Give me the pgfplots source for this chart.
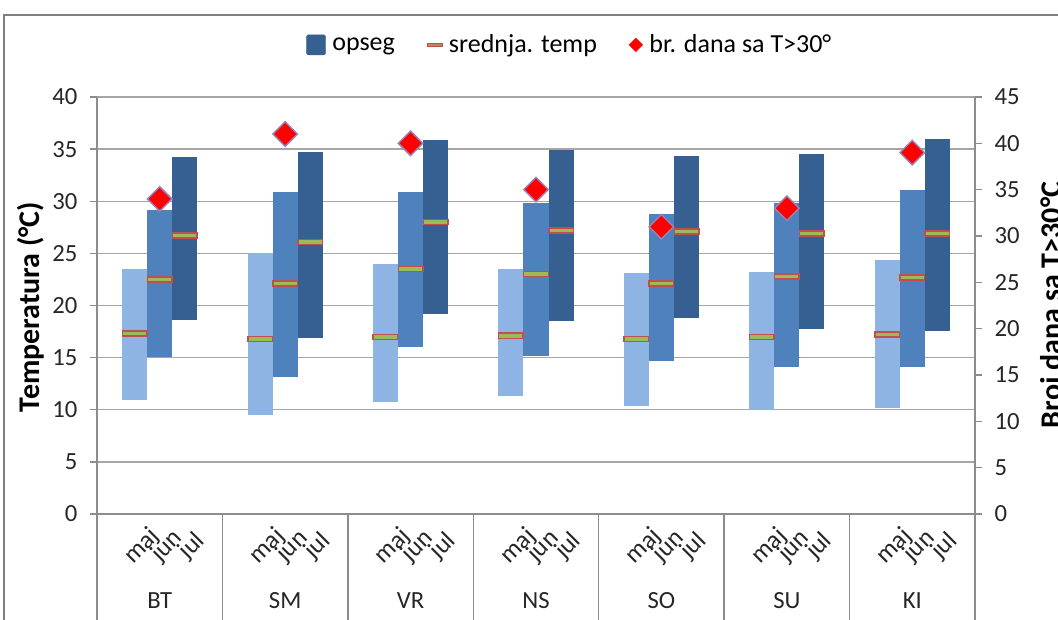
\documentclass[border=0pt]{standalone}
\usepackage{fontspec}
\setmainfont{Carlito}
\usepackage{pgfplots}
\usepackage{pgfplotstable}
\pgfplotsset{compat=1.18}

\definecolor{majc}{HTML}{8EB4E3}
\definecolor{junc}{HTML}{4F81BD}
\definecolor{julc}{HTML}{376092}
\definecolor{meanfill}{HTML}{9BBB59}
\definecolor{meanedge}{HTML}{C0504D}
\definecolor{dayedge}{HTML}{8064A2}
\definecolor{gridc}{HTML}{A6A6A6}
\definecolor{axisc}{HTML}{8C8C8C}
\definecolor{framec}{HTML}{7F7F7F}

% st = station index, lo/hi = range, mean = mean temperature
\pgfplotstableread{
st lo hi mean
0 10.9 23.5 17.3
1 9.5 25.0 16.8
2 10.7 24.0 17.0
3 11.3 23.5 17.1
4 10.4 23.1 16.8
5 10.0 23.2 17.0
6 10.2 24.4 17.2
}\majtab
\pgfplotstableread{
st lo hi mean
0 15.1 29.2 22.5
1 13.1 30.9 22.1
2 16.0 30.9 23.5
3 15.2 29.8 23.0
4 14.7 28.8 22.1
5 14.1 29.8 22.8
6 14.1 31.1 22.7
}\juntab
\pgfplotstableread{
st lo hi mean
0 18.6 34.2 26.7
1 16.9 34.7 26.1
2 19.2 35.9 28.0
3 18.5 34.9 27.2
4 18.8 34.3 27.1
5 17.7 34.5 26.9
6 17.6 36.0 26.9
}\jultab
\pgfplotstableread{
st days
0 34
1 41
2 40
3 35
4 31
5 33
6 39
}\daytab

\pgfdeclareplotmark{meanbar}{%
  \pgfpathrectangle{\pgfpoint{-9.2pt}{-1.9pt}}{\pgfpoint{18.4pt}{3.8pt}}%
  \pgfusepathqfillstroke}

\pgfplotsset{
  rangebar/.style={draw=none, forget plot,
    error bars/.cd, y dir=plus, y explicit, error mark=none,
    error bar style={line width=18.8pt, draw=#1}},
  meanmark/.style={only marks, forget plot, mark=meanbar,
    mark options={fill=meanfill, draw=meanedge, line width=1.1pt}},
  ticktxt/.style={font=\fontsize{18.5}{19}\selectfont},
}

\begin{document}
\begin{tikzpicture}
\useasboundingbox (0,0) rectangle (793.5pt,464.25pt);
\draw[framec, line width=1.1pt] (3pt,-20pt) -- (3pt,453pt) -- (820pt,453pt);

\begin{axis}[
  at={(72.75pt,78.75pt)}, anchor=south west,
  width=658.5pt, height=312.75pt, scale only axis,
  xmin=-0.5, xmax=6.5, ymin=0, ymax=40,
  axis y line*=left, axis x line*=bottom,
  every outer x axis line/.append style={-},
  every outer y axis line/.append style={-},
  axis line style={axisc, line width=1.1pt},
  clip=false,
  ytick={0,5,...,40},
  ymajorgrids, grid style={gridc, line width=1.1pt},
  major tick length=5.25pt, tick align=outside,
  tick style={axisc, line width=1.1pt},
  /pgf/number format/assume math mode=true,
  yticklabel style={ticktxt, text=black!85, xshift=-6pt},
  xtick={-0.2,0,0.2,0.8,1,1.2,1.8,2,2.2,2.8,3,3.2,3.8,4,4.2,4.8,5,5.2,5.8,6,6.2},
  xticklabels={maj,jun,jul,maj,jun,jul,maj,jun,jul,maj,jun,jul,maj,jun,jul,maj,jun,jul,maj,jun,jul},
  xtick style={draw=none},
  xticklabel style={font=\fontsize{19}{19}\selectfont, text=black!85, xshift=5.5pt, yshift=-19pt, rotate=45, anchor=center},
  extra x ticks={0,1,2,3,4,5,6},
  extra x tick labels={BT,SM,VR,NS,SO,SU,KI},
  extra x tick style={grid=none,
    every x tick label/.style={font=\fontsize{18.5}{19}\selectfont, text=black!85, anchor=center, yshift=-60pt}},
  legend style={draw=none, fill=none, at={(0.539,1.125)}, anchor=center,
    font=\fontsize{19.5}{20}\selectfont,
    /tikz/every even column/.append style={column sep=22pt},
    /tikz/every odd column/.append style={column sep=3pt}},
  legend columns=3,
]
\addlegendimage{legend image code/.code={\fill[julc, rounded corners=1pt] (0pt,-7.5pt) rectangle (14pt,7.5pt);}}
\addlegendentry{opseg}
\addlegendimage{legend image code/.code={\draw[meanedge, fill=meanfill!60!meanedge, line width=0.5pt] (1pt,-1.3pt) rectangle (12pt,1.3pt);}}
\addlegendentry{srednja. temp}
\addlegendimage{legend image code/.code={\fill[red] (6.5pt,-5pt) -- (11.5pt,0pt) -- (6.5pt,5pt) -- (1.5pt,0pt) -- cycle;}}
\addlegendentry{br. dana sa T>30°}

\addplot[rangebar=majc] table[x expr=\thisrow{st}-0.2, y=lo, y error plus expr=\thisrow{hi}-\thisrow{lo}] {\majtab};
\addplot[rangebar=junc] table[x expr=\thisrow{st}, y=lo, y error plus expr=\thisrow{hi}-\thisrow{lo}] {\juntab};
\addplot[rangebar=julc] table[x expr=\thisrow{st}+0.2, y=lo, y error plus expr=\thisrow{hi}-\thisrow{lo}] {\jultab};

\addplot[meanmark] table[x expr=\thisrow{st}-0.2, y=mean] {\majtab};
\addplot[meanmark] table[x expr=\thisrow{st}, y=mean] {\juntab};
\addplot[meanmark] table[x expr=\thisrow{st}+0.2, y=mean] {\jultab};

\pgfplotsinvokeforeach{-0.5,0.5,1.5,2.5,3.5,4.5,5.5,6.5}{
  \draw[axisc, line width=1.1pt] (axis cs:#1,0) -- ++(0pt,-82pt);
}
\end{axis}

\begin{axis}[
  at={(72.75pt,78.75pt)}, anchor=south west,
  width=658.5pt, height=312.75pt, scale only axis,
  xmin=-0.5, xmax=6.5, ymin=0, ymax=45,
  axis y line*=right, axis x line=none,
  every outer y axis line/.append style={-},
  axis line style={axisc, line width=1.1pt},
  ytick={0,5,...,45},
  major tick length=5.25pt, tick align=outside,
  tick style={axisc, line width=1.1pt},
  /pgf/number format/assume math mode=true,
  yticklabel style={ticktxt, text=black!85, xshift=6pt},
  clip=false,
]
\addplot[only marks, mark=square*, mark size=6.5pt,
  mark options={rotate=45, fill=red, draw=dayedge!80, line width=1.1pt}]
  table[x=st, y=days] {\daytab};
\end{axis}

\node[rotate=90, font=\bfseries\fontsize{22.5}{23}\selectfont] at (23.25pt,234pt) {Temperatura (°C)};
\node[rotate=90, font=\bfseries\fontsize{22.5}{23}\selectfont] at (790.5pt,235.5pt) {Broj dana sa T>30°C};
\end{tikzpicture}
\end{document}
